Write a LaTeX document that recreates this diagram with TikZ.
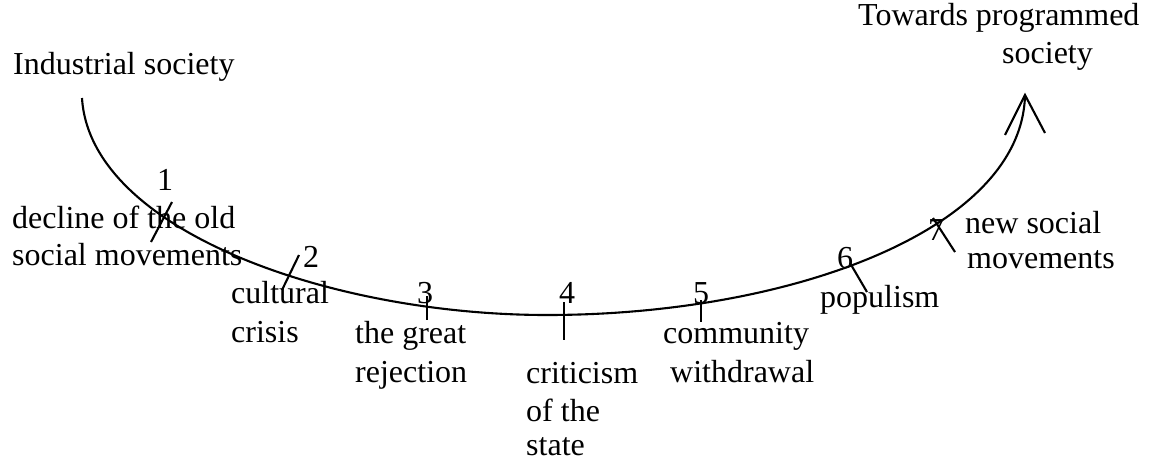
\documentclass[tikz,border=0pt]{standalone}
\usepackage{fontspec}
\setmainfont{Liberation Serif}
\begin{document}
\begin{tikzpicture}[x=1pt,y=-1pt,
  lbl/.style={anchor=base west,inner sep=0pt,font=\fontsize{32}{38}\selectfont},
  num/.style={anchor=base,inner sep=0pt,font=\fontsize{32}{38}\selectfont},
  curveline/.style={line width=2.1pt},
  tickline/.style={line width=2.1pt}]
\useasboundingbox (0,0) rectangle (1153,461);
% main curve
\coordinate (start) at (82,98);
\coordinate (bottom) at (547,315);
\coordinate (tip) at (1025,95);
\draw[curveline] (start) .. controls (90,230) and (330,315) .. (bottom)
  .. controls (790,315) and (1022,230) .. (tip);
\coordinate (barbL) at (1005,135);
\coordinate (barbR) at (1045,133);
\draw[curveline] (barbL) -- (tip) -- (barbR);
% ticks
\coordinate (t1a) at (172,202); \coordinate (t1b) at (151,242);
\coordinate (t2a) at (299,255); \coordinate (t2b) at (282,290);
\coordinate (t3a) at (427,296); \coordinate (t3b) at (427,320);
\coordinate (t4a) at (564,302); \coordinate (t4b) at (564,340);
\coordinate (t5a) at (701,300); \coordinate (t5b) at (701,322);
\coordinate (t6a) at (850,263); \coordinate (t6b) at (867,292);
\coordinate (t7a) at (933,218); \coordinate (t7b) at (955,252);
\foreach \i in {1,...,7} {\draw[tickline] (t\i a) -- (t\i b);}
% texts
\node[lbl] (ind) at (13,74) {Industrial society};
\node[lbl] (tow1) at (858,25) {Towards programmed};
\node[lbl] (tow2) at (1002,63) {society};
\node[num] (n1) at (165,190) {1};
\node[lbl] (d1) at (12,228) {decline of the old};
\node[lbl] (d2) at (12,265) {social movements};
\node[num] (n2) at (311,267) {2};
\node[lbl] (c1) at (231,303) {cultural};
\node[lbl] (c2) at (231,342) {crisis};
\node[num] (n3) at (425,303) {3};
\node[lbl] (g1) at (355,343) {the great};
\node[lbl] (g2) at (355,382) {rejection};
\node[num] (n4) at (567,303) {4};
\node[lbl] (s1) at (526,383) {criticism};
\node[lbl] (s2) at (526,421) {of the};
\node[lbl] (s3) at (526,455) {state};
\node[num] (n5) at (701,303) {5};
\node[lbl] (w1) at (663,343) {community};
\node[lbl] (w2) at (670,382) {withdrawal};
\node[num] (n6) at (845,268) {6};
\node[lbl] (p1) at (820,307) {populism};
\node[num] (n7) at (936,240) {7};
\node[lbl] (m1) at (965,233) {new social};
\node[lbl] (m2) at (967,268) {movements};
\end{tikzpicture}
\end{document}
